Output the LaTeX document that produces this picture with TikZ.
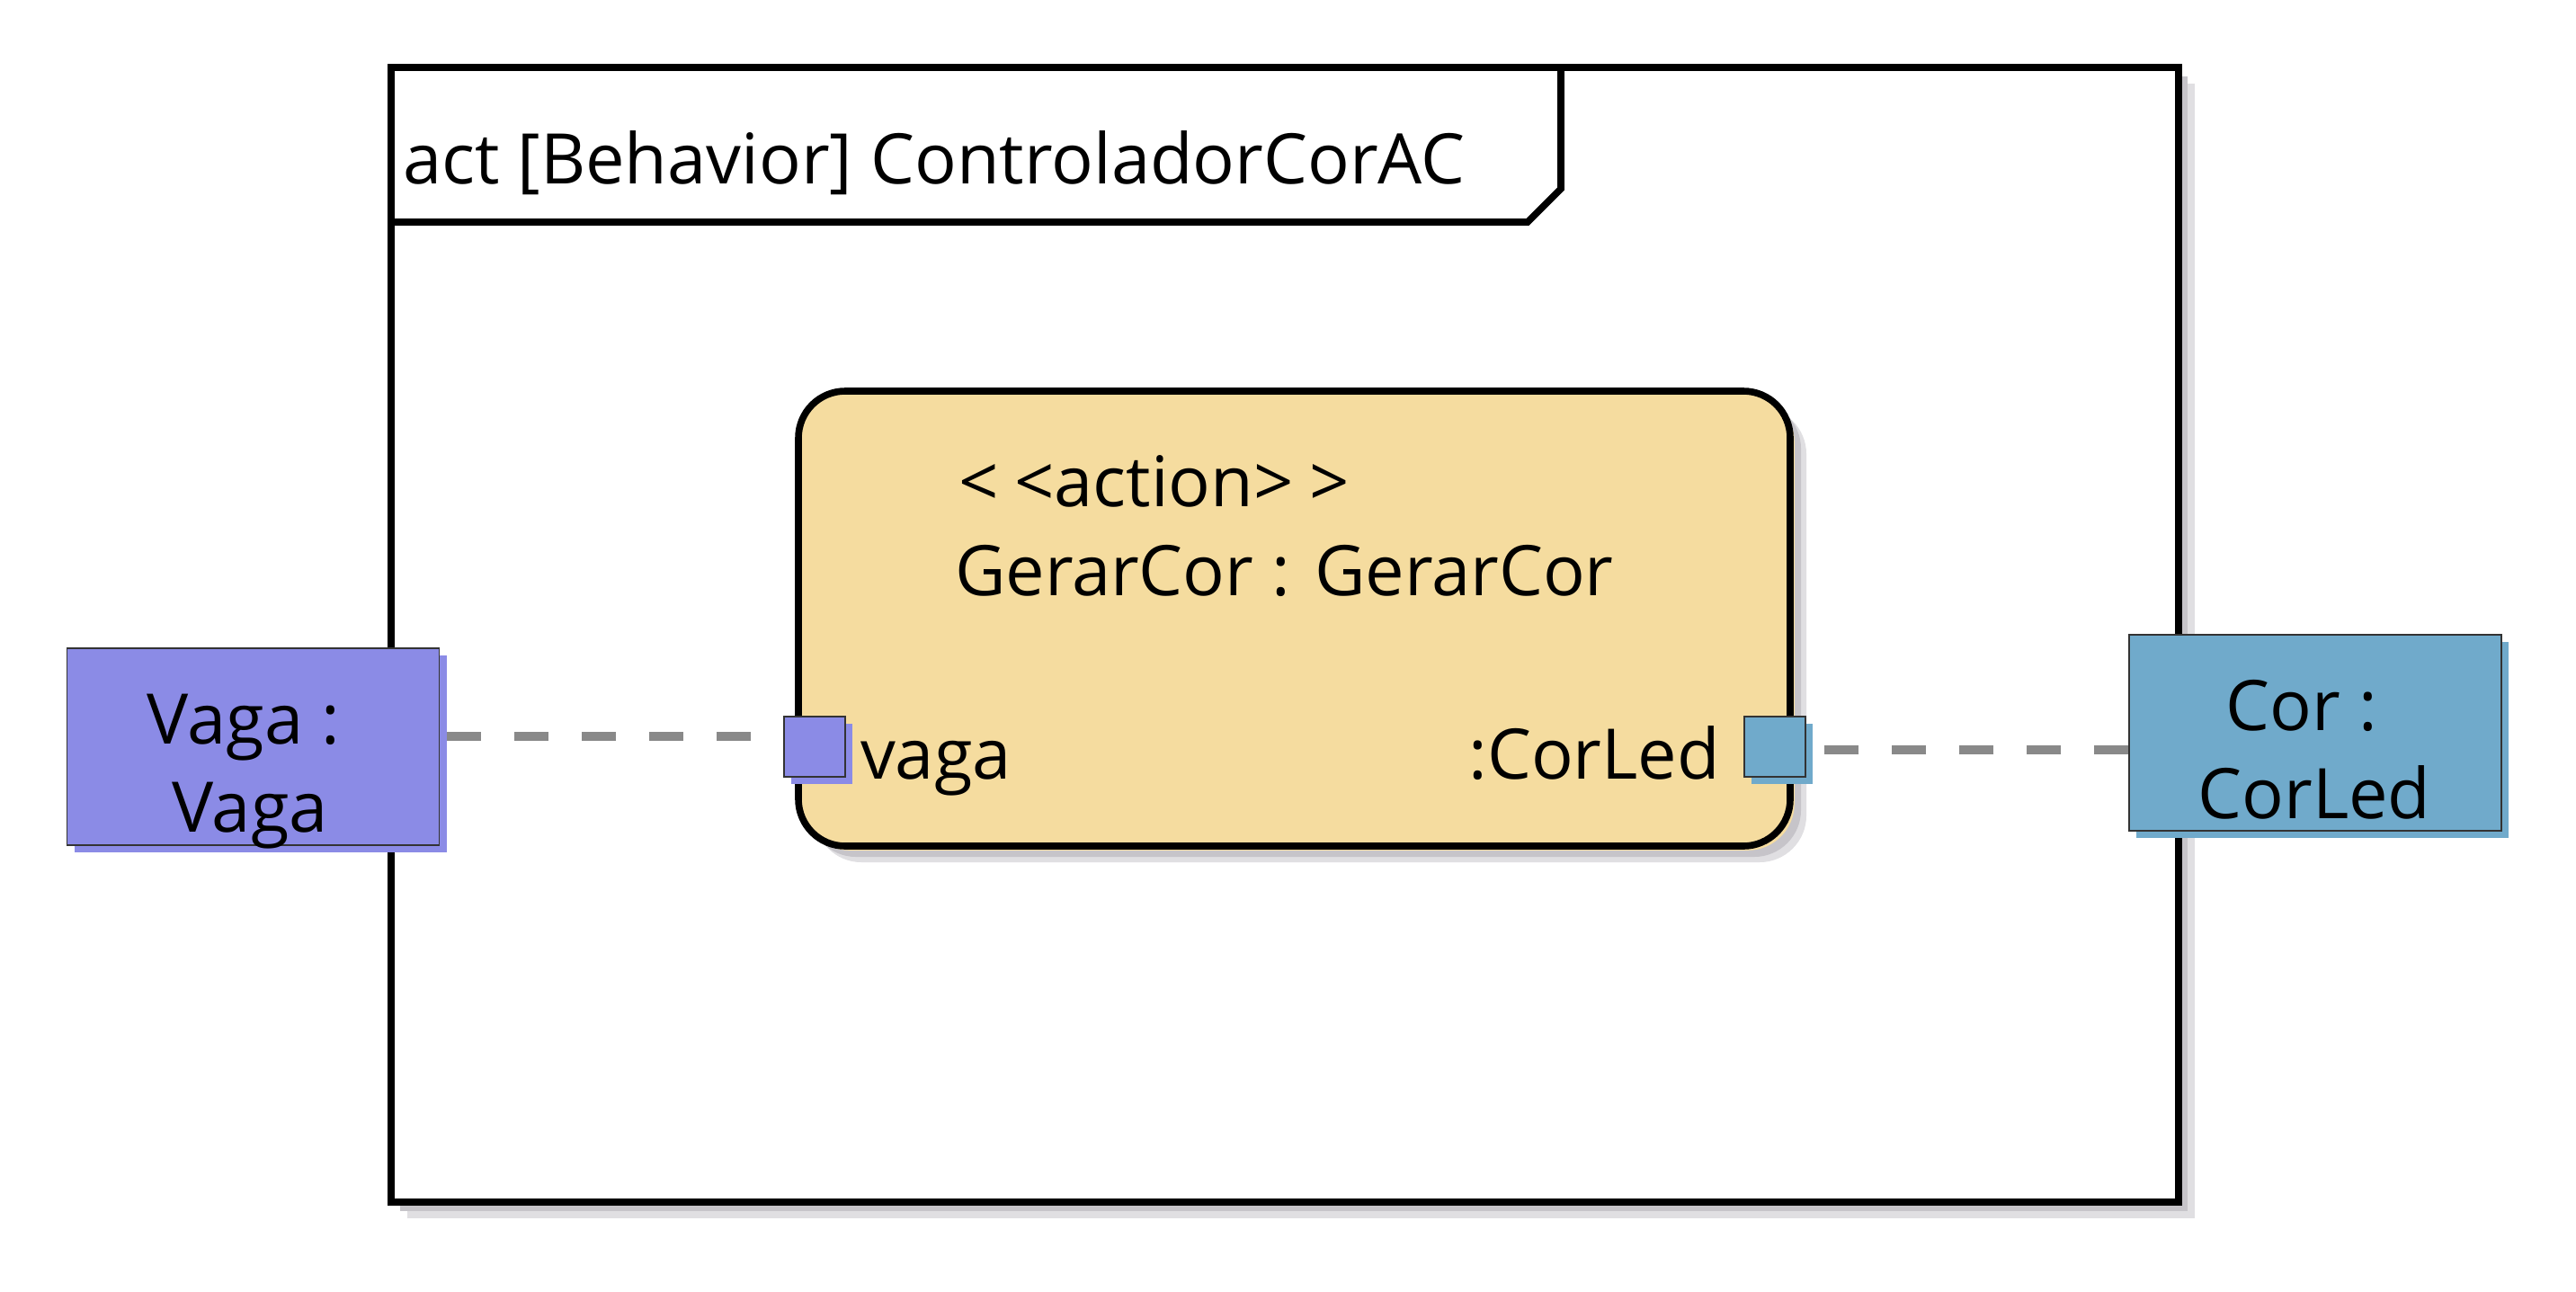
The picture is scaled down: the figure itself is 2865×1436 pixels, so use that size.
\documentclass[tikz,border=0pt]{standalone}
\usepackage{fontspec}
\setmainfont{Open Sans}
\usetikzlibrary{shadows}
\definecolor{vagafill}{RGB}{139,139,230}
\definecolor{corfill}{RGB}{112,170,203}
\definecolor{actfill}{RGB}{245,220,159}
\definecolor{shadowA}{RGB}{198,196,201}
\definecolor{shadowB}{RGB}{224,223,226}
\definecolor{dashgray}{RGB}{137,137,137}
\definecolor{edgegray}{RGB}{51,51,51}
\tikzset{
  txt/.style={font=\fontsize{19.4}{24.5}\selectfont, inner sep=0pt, outer sep=0pt},
  framebox/.style={draw=black, fill=white, line width=1.9pt, inner sep=0pt,
     minimum width=497pt, minimum height=315.5pt,
     drop shadow={shadow xshift=4.5pt, shadow yshift=-4.5pt, fill=shadowB, opacity=1},
     drop shadow={shadow xshift=2.5pt, shadow yshift=-2.5pt, fill=shadowA, opacity=1}},
  tabline/.style={draw=black, line width=1.9pt},
  actbox/.style={draw=black, fill=actfill, line width=1.9pt, rounded corners=13pt,
     inner sep=0pt, minimum width=275.75pt, minimum height=126.5pt,
     drop shadow={shadow xshift=4.5pt, shadow yshift=-4.5pt, fill=shadowB, opacity=1},
     drop shadow={shadow xshift=3pt, shadow yshift=-3pt, fill=shadowA, opacity=1},
     drop shadow={shadow xshift=1.2pt, shadow yshift=-1.2pt, fill=actfill, opacity=1}},
  objbox/.style={draw=edgegray, line width=0.3pt, inner sep=0pt,
     minimum width=103.5pt, minimum height=54.75pt},
  portbox/.style={draw=edgegray, line width=0.3pt, inner sep=0pt,
     minimum width=17pt, minimum height=16.75pt},
  vagacol/.style={fill=vagafill, drop shadow={shadow xshift=2pt, shadow yshift=-2pt, fill=vagafill, opacity=1}},
  corcol/.style={fill=corfill, drop shadow={shadow xshift=2pt, shadow yshift=-2pt, fill=corfill, opacity=1}},
  conn/.style={draw=dashgray, line width=2.5pt, dash pattern=on 9.5pt off 9.25pt}
}
\begin{document}
\begin{tikzpicture}[x=0.25pt,y=-0.25pt]
\useasboundingbox (0,0) rectangle (2865,1436);
% frame
\node[framebox] (frame) at (1429,706) {};
\coordinate (t1) at (438,247);
\coordinate (t2) at (1699,247);
\coordinate (t3) at (1736,210);
\coordinate (t4) at (1736,75);
\draw[tabline] (t1) -- (t2) -- (t3) -- (t4);
\node[txt, anchor=base west] (title) at (448,204) {act [Behavior] ControladorCorAC};
% action
\node[actbox] (act) at (1439.5,688) {};
\node[txt, anchor=base west] (stereo) at (1066,563) {{<}\kern4.5pt{<}action{>}\kern4.5pt{>}};
\node[txt, anchor=base west] (actname) at (1062,662) {GerarCor : GerarCor};
\node[txt, anchor=base west] (vlabel) at (957,866) {vaga};
\node[txt, anchor=base east] (clabel) at (1913,866) {:CorLed};
% ports
\node[portbox, vagacol] (vport) at (906,830.5) {};
\node[portbox, corcol] (cport) at (1974,830.5) {};
% object nodes
\node[objbox, vagacol] (vagabox) at (281.5,830.5) {};
\node[txt, anchor=base] (vt1) at (271,827) {Vaga :};
\node[txt, anchor=base] (vt2) at (278,925) {Vaga};
\node[objbox, corcol, minimum height=54.5pt] (corbox) at (2575,815) {};
\node[txt, anchor=base] (ct1) at (2560,812) {Cor :};
\node[txt, anchor=base] (ct2) at (2574,910) {CorLed};
% connectors
\draw[conn] ([xshift=2pt,yshift=2.875pt]vagabox.east) -- ([yshift=2.875pt]vport.west);
\draw[conn] ([yshift=-4.75pt]corbox.west) -- ([xshift=1.75pt,yshift=-0.875pt]cport.east);
\end{tikzpicture}
\end{document}
